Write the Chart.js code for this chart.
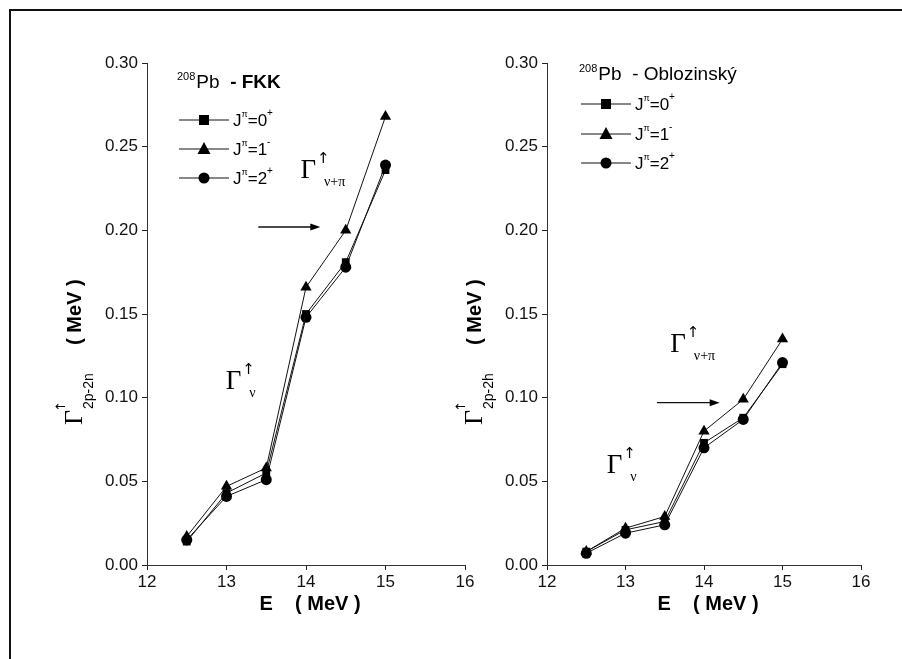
<!DOCTYPE html>
<html>
<head>
<meta charset="utf-8">
<script src="https://cdn.jsdelivr.net/npm/chart.js@4.4.1/dist/chart.umd.min.js"></script>
<style>
  body { margin: 0; background: #fff; }
  #page { position: relative; width: 902px; height: 659px; overflow: hidden; background: #fff; }
  #frame { position: absolute; left: 9px; top: 9px; width: 900px; height: 660px;
           border-left: 2px solid #111; border-top: 2px solid #111; }
  canvas { position: absolute; top: 0; }
  #left { left: 0; }
  #right { left: 400px; }
</style>
</head>
<body>
<div id="page">
  <div id="frame"></div>
  <canvas id="left" width="480" height="659"></canvas>
  <canvas id="right" width="502" height="659"></canvas>
</div>
<script>
// incident energy (MeV)
const energies = [12.5, 13, 13.5, 14, 14.5, 15];

// 208Pb - FKK
const fkkJ0 = [0.014, 0.043, 0.055, 0.150, 0.181, 0.236];
const fkkJ1 = [0.017, 0.047, 0.058, 0.166, 0.200, 0.268];
const fkkJ2 = [0.015, 0.041, 0.051, 0.148, 0.178, 0.239];

// 208Pb - Oblozinsky
const oblJ0 = [0.008, 0.021, 0.026, 0.073, 0.088, 0.120];
const oblJ1 = [0.008, 0.022, 0.029, 0.080, 0.099, 0.135];
const oblJ2 = [0.007, 0.019, 0.024, 0.070, 0.087, 0.121];

const xTicks = [12, 13, 14, 15, 16];
const yTicks = [0.00, 0.05, 0.10, 0.15, 0.20, 0.25, 0.30];

const seriesLabels = ['0', '1', '2'];
const seriesParity = ['+', '-', '+'];
const pointStyles = ['rect', 'triangle', 'circle'];

const ARIAL = '"Liberation Sans", Arial, sans-serif';
const SERIF = '"Liberation Serif", "Times New Roman", serif';

function toPoints(ys) {
    return energies.map((e, i) => ({ x: e, y: ys[i] }));
}

function makeDataset(ys, i) {
    return {
        data: toPoints(ys),
        borderColor: '#111',
        borderWidth: 1,
        backgroundColor: '#000',
        pointBackgroundColor: '#000',
        pointBorderColor: '#000',
        pointBorderWidth: 0,
        pointStyle: pointStyles[i],
        pointRadius: pointStyles[i] === 'triangle' ? 6.5 : 5.5,
        tension: 0
    };
}

// draw a list of text runs one after another
function drawRuns(ctx, x, y, runs) {
    runs.forEach(r => {
        ctx.font = r.font;
        ctx.fillText(r.t, x + (r.dx || 0), y + (r.dy || 0));
        x += ctx.measureText(r.t).width + (r.dx || 0) + (r.gap || 0);
    });
    return x;
}

function marker(ctx, style, x, y) {
    ctx.beginPath();
    if (style === 'rect') {
        ctx.rect(x - 5, y - 5, 10, 10);
    } else if (style === 'triangle') {
        ctx.moveTo(x, y - 7);
        ctx.lineTo(x + 6.5, y + 5);
        ctx.lineTo(x - 6.5, y + 5);
        ctx.closePath();
    } else {
        ctx.arc(x, y, 5.5, 0, Math.PI * 2);
    }
    ctx.fill();
}

function drawGamma(ctx, x, y, sub) {
    ctx.font = '27px ' + SERIF;
    ctx.fillText('\u0393', x, y);
    const w = ctx.measureText('\u0393').width;
    ctx.font = '15px "DejaVu Sans", sans-serif';
    ctx.fillText('\u2191', x + w + 1, y - 15);
    ctx.font = '14px ' + SERIF;
    ctx.fillText(sub, x + w + 8, y + 8);
}

const extras = {
    id: 'extras',
    afterDraw(chart, args, opts) {
        const ctx = chart.ctx;
        const xs = chart.scales.x, ys = chart.scales.y;
        const area = chart.chartArea;
        ctx.save();
        ctx.fillStyle = '#000';
        ctx.strokeStyle = '#111';
        ctx.textBaseline = 'alphabetic';
        ctx.textAlign = 'left';

        // legend title
        const lg = opts.legend;
        drawRuns(ctx, area.left + lg.dx, lg.titleY, [
            { t: '208', font: '11px ' + ARIAL, dy: -8, gap: 1 },
            { t: 'Pb', font: '19px ' + ARIAL, gap: 0 },
            { t: opts.name, font: (opts.nameBold ? 'bold ' : '') + '19px ' + ARIAL }
        ]);

        // legend rows
        lg.rows.forEach((ry, i) => {
            const x0 = area.left + lg.dx + 2;
            ctx.lineWidth = 1;
            ctx.beginPath();
            ctx.moveTo(x0, ry);
            ctx.lineTo(x0 + 50, ry);
            ctx.stroke();
            marker(ctx, pointStyles[i], x0 + 25, ry);
            drawRuns(ctx, x0 + 54, ry + 6, [
                { t: 'J', font: '17px ' + ARIAL },
                { t: '\u03C0', font: '9px ' + ARIAL, dy: -9 },
                { t: '=' + seriesLabels[i], font: '17px ' + ARIAL },
                { t: seriesParity[i], font: '10px ' + ARIAL, dy: -10 }
            ]);
        });

        // arrow
        const a = opts.arrow;
        const ax0 = xs.getPixelForValue(a.x0), ax1 = xs.getPixelForValue(a.x1);
        const ay = ys.getPixelForValue(a.y);
        ctx.lineWidth = 1.3;
        ctx.beginPath();
        ctx.moveTo(ax0, ay);
        ctx.lineTo(ax1 - 6, ay);
        ctx.stroke();
        ctx.beginPath();
        ctx.moveTo(ax1, ay);
        ctx.lineTo(ax1 - 10, ay - 3.5);
        ctx.lineTo(ax1 - 10, ay + 3.5);
        ctx.closePath();
        ctx.fill();

        // gamma labels
        opts.gammas.forEach(g => {
            drawGamma(ctx, xs.getPixelForValue(g.x), ys.getPixelForValue(g.y), g.sub);
        });

        // x axis title
        ctx.textAlign = 'center';
        ctx.font = 'bold 20px ' + ARIAL;
        ctx.fillText('E    ( MeV )', (area.left + area.right) / 2 + 4, 610);

        // y axis title (rotated)
        ctx.translate(area.left - 65, 425);
        ctx.rotate(-Math.PI / 2);
        ctx.textAlign = 'left';
        ctx.font = '26px ' + SERIF;
        ctx.fillText('\u0393', 0, 0);
        const gw = ctx.measureText('\u0393').width;
        ctx.font = '13px "DejaVu Sans", sans-serif';
        ctx.fillText('\u2191', gw - 2, -17);
        ctx.font = '14px ' + ARIAL;
        ctx.fillText(opts.ySub, gw + 1, 11);
        ctx.font = 'bold 20px ' + ARIAL;
        ctx.fillText('( MeV )', 80, -1);
        ctx.restore();
    }
};

function makeChart(id, sets, extraOpts, padRight) {
    return new Chart(document.getElementById(id), {
        type: 'line',
        data: { datasets: sets.map(makeDataset) },
        plugins: [extras],
        options: {
            responsive: false,
            animation: false,
            layout: { padding: { top: 63, right: padRight, left: 0, bottom: 0 } },
            plugins: {
                legend: { display: false },
                tooltip: { enabled: false },
                extras: extraOpts
            },
            scales: {
                x: {
                    type: 'linear',
                    min: xTicks[0],
                    max: xTicks[xTicks.length - 1],
                    afterBuildTicks: s => { s.ticks = xTicks.map(v => ({ value: v })); },
                    afterFit: s => { s.height = 94; },
                    grid: { drawOnChartArea: false, drawTicks: true, tickLength: 5, tickColor: '#222' },
                    border: { display: true, color: '#333', width: 1 },
                    ticks: { color: '#111', padding: 2, font: { family: ARIAL, size: 17 } }
                },
                y: {
                    type: 'linear',
                    min: yTicks[0],
                    max: yTicks[yTicks.length - 1],
                    afterBuildTicks: s => { s.ticks = yTicks.map(v => ({ value: v })); },
                    afterFit: s => { s.width = 147; },
                    grid: { drawOnChartArea: false, drawTicks: true, tickLength: 5, tickColor: '#222' },
                    border: { display: true, color: '#333', width: 1 },
                    ticks: {
                        color: '#111', padding: 4, font: { family: ARIAL, size: 17 },
                        callback: v => v.toFixed(2)
                    }
                }
            }
        }
    });
}

makeChart('left', [fkkJ0, fkkJ1, fkkJ2], {
    name: '  - FKK',
    nameBold: true,
    ySub: '2p-2n',
    legend: { dx: 30, titleY: 88, rows: [120, 149, 178] },
    arrow: { x0: 13.4, x1: 14.18, y: 0.202 },
    gammas: [
        { x: 13.93, y: 0.231, sub: '\u03BD+\u03C0' },
        { x: 12.99, y: 0.105, sub: '\u03BD' }
    ]
}, 15);

makeChart('right', [oblJ0, oblJ1, oblJ2], {
    name: '  - Oblozinsk\u00FD',
    nameBold: false,
    ySub: '2p-2h',
    legend: { dx: 32, titleY: 80, rows: [104, 134, 163] },
    arrow: { x0: 13.4, x1: 14.2, y: 0.097 },
    gammas: [
        { x: 13.57, y: 0.127, sub: '\u03BD+\u03C0' },
        { x: 12.76, y: 0.055, sub: '\u03BD' }
    ]
}, 41);
</script>
</body>
</html>
